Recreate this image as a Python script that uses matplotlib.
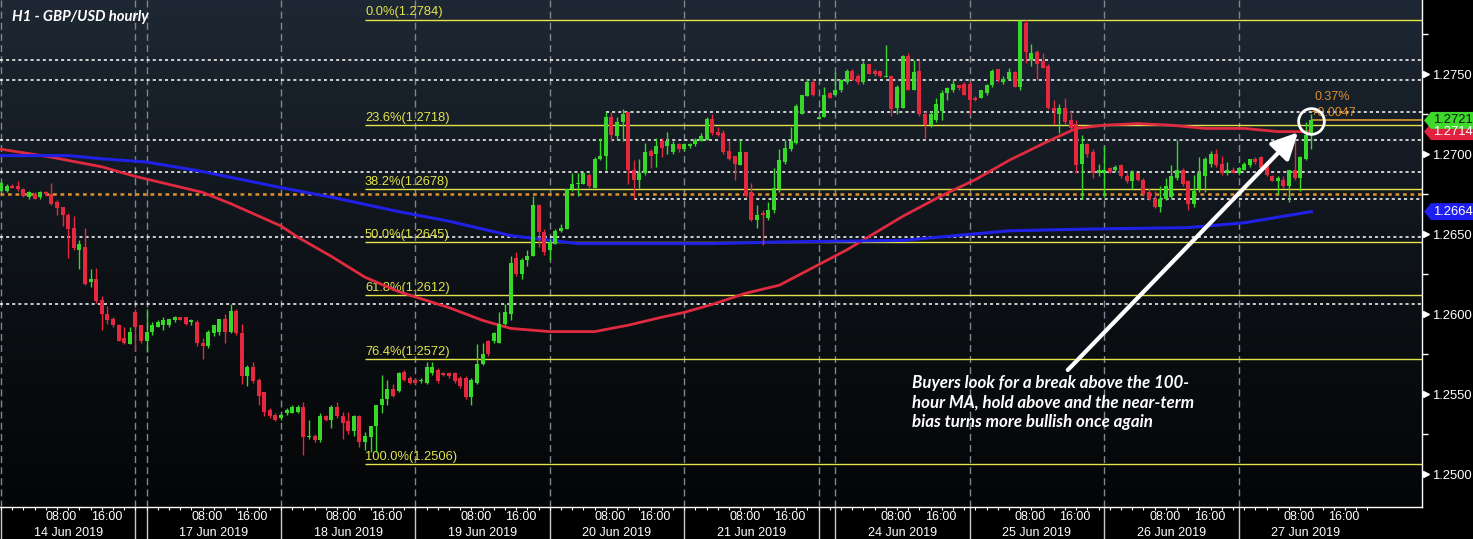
import numpy as np
import matplotlib
matplotlib.use('Agg')
import matplotlib.pyplot as plt
from matplotlib.colors import LinearSegmentedColormap
from matplotlib.patches import Polygon

# hourly GBP/USD candles, one entry per bar (Sunday evening bars included)
opens = [
    # 14 Jun
    1.2677, 1.2677, 1.2680, 1.2680, 1.2678, 1.2673, 1.2675, 1.2673, 1.2676, 1.2675, 1.2670, 1.2667,
    1.2662, 1.2654, 1.2640, 1.2642, 1.2620, 1.2622, 1.2609, 1.2600, 1.2597, 1.2593, 1.2585, 1.2581,
    # sunday
    1.2601, 1.2593,
    # 17 Jun
    1.2583, 1.2589, 1.2592, 1.2593, 1.2593, 1.2596, 1.2598, 1.2598, 1.2595, 1.2595, 1.2582, 1.2580,
    1.2588, 1.2589, 1.2597, 1.2589, 1.2602, 1.2588, 1.2561, 1.2567, 1.2559, 1.2551, 1.2540, 1.2537,
    # 18 Jun
    1.2535, 1.2538, 1.2538, 1.2539, 1.2542, 1.2523, 1.2524, 1.2521, 1.2536, 1.2534, 1.2542, 1.2536,
    1.2533, 1.2527, 1.2536, 1.2520, 1.2523, 1.2530, 1.2543, 1.2547, 1.2553, 1.2552, 1.2564, 1.2560,
    # 19 Jun
    1.2559, 1.2558, 1.2557, 1.2563, 1.2565, 1.2563, 1.2563, 1.2563, 1.2560, 1.2560, 1.2548, 1.2557,
    1.2569, 1.2583, 1.2583, 1.2582, 1.2594, 1.2600, 1.2635, 1.2625, 1.2634, 1.2636, 1.2668, 1.2651,
    # 20 Jun
    1.2640, 1.2644, 1.2652, 1.2653, 1.2678, 1.2681, 1.2681, 1.2687, 1.2679, 1.2697, 1.2699, 1.2723,
    1.2711, 1.2720, 1.2726, 1.2690, 1.2684, 1.2688, 1.2702, 1.2700, 1.2708, 1.2705, 1.2701, 1.2706,
    # 21 Jun
    1.2703, 1.2705, 1.2706, 1.2708, 1.2709, 1.2722, 1.2714, 1.2713, 1.2702, 1.2699, 1.2693, 1.2701,
    1.2676, 1.2659, 1.2663, 1.2660, 1.2665, 1.2678, 1.2695, 1.2703, 1.2707, 1.2725, 1.2736, 1.2745,
    # sunday
    1.2722, 1.2723, 1.2738,
    # 24 Jun
    1.2737, 1.2740, 1.2745, 1.2752, 1.2749, 1.2745, 1.2756, 1.2752, 1.2752, 1.2748, 1.2749, 1.2729,
    1.2729, 1.2761, 1.2740, 1.2752, 1.2725, 1.2718, 1.2721, 1.2727, 1.2738, 1.2740, 1.2743, 1.2744,
    # 25 Jun
    1.2744, 1.2735, 1.2735, 1.2738, 1.2743, 1.2753, 1.2745, 1.2747, 1.2751, 1.2742, 1.2782, 1.2759,
    1.2764, 1.2758, 1.2755, 1.2729, 1.2725, 1.2729, 1.2721, 1.2719, 1.2694, 1.2706, 1.2701, 1.2688,
    # 26 Jun
    1.2688, 1.2691, 1.2690, 1.2693, 1.2686, 1.2683, 1.2688, 1.2684, 1.2676, 1.2672, 1.2667, 1.2672,
    1.2673, 1.2685, 1.2690, 1.2683, 1.2669, 1.2678, 1.2686, 1.2694, 1.2700, 1.2694, 1.2688, 1.2690,
    # 27 Jun
    1.2688, 1.2690, 1.2693, 1.2697, 1.2698, 1.2694, 1.2686, 1.2683, 1.2684, 1.2680, 1.2690, 1.2685,
    1.2697, 1.2713,
]
highs = [
    1.2683, 1.2681, 1.2681, 1.2683, 1.2679, 1.2677, 1.2676, 1.2677, 1.2677, 1.2682, 1.2671, 1.2667,
    1.2663, 1.2661, 1.2646, 1.2654, 1.2628, 1.2629, 1.2611, 1.2605, 1.2598, 1.2594, 1.2592, 1.2592,
    1.2603, 1.2593,
    1.2603, 1.2595, 1.2596, 1.2598, 1.2597, 1.2599, 1.2598, 1.2598, 1.2597, 1.2596, 1.2585, 1.2590,
    1.2593, 1.2597, 1.2600, 1.2606, 1.2603, 1.2594, 1.2568, 1.2570, 1.2560, 1.2551, 1.2541, 1.2538,
    1.2538, 1.2541, 1.2543, 1.2543, 1.2545, 1.2534, 1.2525, 1.2538, 1.2537, 1.2543, 1.2545, 1.2539,
    1.2539, 1.2537, 1.2537, 1.2526, 1.2530, 1.2543, 1.2562, 1.2559, 1.2556, 1.2564, 1.2565, 1.2561,
    1.2560, 1.2560, 1.2570, 1.2570, 1.2566, 1.2564, 1.2564, 1.2564, 1.2561, 1.2561, 1.2560, 1.2581,
    1.2582, 1.2584, 1.2589, 1.2601, 1.2606, 1.2636, 1.2639, 1.2635, 1.2640, 1.2674, 1.2669, 1.2653,
    1.2647, 1.2653, 1.2656, 1.2678, 1.2688, 1.2688, 1.2688, 1.2688, 1.2698, 1.2710, 1.2726, 1.2726,
    1.2723, 1.2728, 1.2726, 1.2696, 1.2697, 1.2707, 1.2703, 1.2710, 1.2710, 1.2714, 1.2708, 1.2707,
    1.2707, 1.2707, 1.2710, 1.2713, 1.2723, 1.2725, 1.2717, 1.2715, 1.2709, 1.2699, 1.2709, 1.2701,
    1.2682, 1.2668, 1.2665, 1.2670, 1.2691, 1.2703, 1.2709, 1.2717, 1.2731, 1.2737, 1.2747, 1.2747,
    1.2723, 1.2742, 1.2739,
    1.2751, 1.2747, 1.2753, 1.2753, 1.2750, 1.2758, 1.2756, 1.2753, 1.2752, 1.2768, 1.2749, 1.2743,
    1.2762, 1.2763, 1.2759, 1.2759, 1.2727, 1.2727, 1.2735, 1.2740, 1.2742, 1.2747, 1.2743, 1.2745,
    1.2745, 1.2736, 1.2740, 1.2744, 1.2753, 1.2753, 1.2749, 1.2754, 1.2752, 1.2784, 1.2784, 1.2769,
    1.2765, 1.2763, 1.2756, 1.2734, 1.2731, 1.2735, 1.2727, 1.2721, 1.2712, 1.2707, 1.2703, 1.2694,
    1.2705, 1.2692, 1.2693, 1.2694, 1.2688, 1.2690, 1.2688, 1.2685, 1.2679, 1.2677, 1.2680, 1.2685,
    1.2693, 1.2709, 1.2691, 1.2684, 1.2687, 1.2698, 1.2698, 1.2702, 1.2703, 1.2699, 1.2695, 1.2692,
    1.2692, 1.2695, 1.2697, 1.2698, 1.2699, 1.2695, 1.2687, 1.2686, 1.2686, 1.2690, 1.2709, 1.2699,
    1.2720, 1.2725,
]
lows = [
    1.2676, 1.2676, 1.2679, 1.2677, 1.2673, 1.2672, 1.2672, 1.2672, 1.2674, 1.2668, 1.2662, 1.2655,
    1.2635, 1.2640, 1.2628, 1.2618, 1.2617, 1.2607, 1.2590, 1.2594, 1.2592, 1.2583, 1.2581, 1.2581,
    1.2577, 1.2582,
    1.2576, 1.2587, 1.2592, 1.2590, 1.2592, 1.2595, 1.2596, 1.2593, 1.2593, 1.2580, 1.2572, 1.2579,
    1.2586, 1.2587, 1.2582, 1.2588, 1.2587, 1.2556, 1.2555, 1.2557, 1.2543, 1.2536, 1.2535, 1.2533,
    1.2534, 1.2537, 1.2538, 1.2538, 1.2512, 1.2522, 1.2520, 1.2520, 1.2533, 1.2529, 1.2535, 1.2522,
    1.2525, 1.2524, 1.2517, 1.2515, 1.2514, 1.2514, 1.2538, 1.2543, 1.2548, 1.2551, 1.2558, 1.2556,
    1.2556, 1.2557, 1.2556, 1.2562, 1.2557, 1.2561, 1.2560, 1.2557, 1.2554, 1.2547, 1.2543, 1.2556,
    1.2568, 1.2574, 1.2582, 1.2582, 1.2593, 1.2596, 1.2624, 1.2622, 1.2630, 1.2636, 1.2642, 1.2637,
    1.2634, 1.2644, 1.2651, 1.2653, 1.2677, 1.2674, 1.2681, 1.2679, 1.2679, 1.2696, 1.2690, 1.2708,
    1.2709, 1.2708, 1.2681, 1.2672, 1.2679, 1.2687, 1.2691, 1.2692, 1.2698, 1.2700, 1.2700, 1.2701,
    1.2702, 1.2704, 1.2705, 1.2708, 1.2709, 1.2712, 1.2711, 1.2700, 1.2696, 1.2684, 1.2693, 1.2673,
    1.2658, 1.2654, 1.2643, 1.2659, 1.2663, 1.2676, 1.2694, 1.2702, 1.2706, 1.2725, 1.2736, 1.2736,
    1.2722, 1.2723, 1.2735,
    1.2736, 1.2739, 1.2744, 1.2746, 1.2744, 1.2744, 1.2750, 1.2749, 1.2748, 1.2748, 1.2724, 1.2725,
    1.2729, 1.2740, 1.2740, 1.2724, 1.2710, 1.2717, 1.2720, 1.2721, 1.2734, 1.2739, 1.2740, 1.2737,
    1.2725, 1.2733, 1.2735, 1.2737, 1.2742, 1.2745, 1.2744, 1.2746, 1.2742, 1.2740, 1.2757, 1.2755,
    1.2746, 1.2754, 1.2728, 1.2719, 1.2713, 1.2719, 1.2715, 1.2688, 1.2672, 1.2698, 1.2685, 1.2686,
    1.2673, 1.2688, 1.2689, 1.2685, 1.2682, 1.2678, 1.2683, 1.2674, 1.2671, 1.2666, 1.2664, 1.2671,
    1.2672, 1.2684, 1.2680, 1.2665, 1.2667, 1.2676, 1.2676, 1.2692, 1.2692, 1.2687, 1.2687, 1.2688,
    1.2687, 1.2690, 1.2692, 1.2694, 1.2690, 1.2686, 1.2683, 1.2675, 1.2679, 1.2670, 1.2684, 1.2677,
    1.2696, 1.2703,
]
closes = [
    1.2682, 1.2680, 1.2679, 1.2678, 1.2674, 1.2676, 1.2672, 1.2676, 1.2675, 1.2669, 1.2666, 1.2662,
    1.2653, 1.2641, 1.2644, 1.2619, 1.2622, 1.2608, 1.2600, 1.2596, 1.2593, 1.2583, 1.2582, 1.2589,
    1.2592, 1.2583,
    1.2589, 1.2593, 1.2595, 1.2596, 1.2597, 1.2598, 1.2596, 1.2594, 1.2596, 1.2582, 1.2580, 1.2589,
    1.2593, 1.2597, 1.2589, 1.2602, 1.2588, 1.2561, 1.2567, 1.2558, 1.2549, 1.2539, 1.2536, 1.2534,
    1.2537, 1.2540, 1.2542, 1.2542, 1.2523, 1.2524, 1.2521, 1.2536, 1.2534, 1.2542, 1.2536, 1.2532,
    1.2527, 1.2536, 1.2520, 1.2524, 1.2530, 1.2543, 1.2547, 1.2553, 1.2549, 1.2563, 1.2559, 1.2557,
    1.2557, 1.2559, 1.2567, 1.2567, 1.2558, 1.2562, 1.2561, 1.2558, 1.2555, 1.2548, 1.2559, 1.2569,
    1.2575, 1.2575, 1.2588, 1.2594, 1.2601, 1.2632, 1.2625, 1.2634, 1.2636, 1.2668, 1.2651, 1.2639,
    1.2645, 1.2652, 1.2654, 1.2678, 1.2681, 1.2682, 1.2688, 1.2680, 1.2697, 1.2699, 1.2723, 1.2712,
    1.2720, 1.2725, 1.2690, 1.2684, 1.2688, 1.2701, 1.2699, 1.2705, 1.2704, 1.2708, 1.2706, 1.2703,
    1.2706, 1.2706, 1.2709, 1.2711, 1.2722, 1.2713, 1.2712, 1.2701, 1.2697, 1.2694, 1.2701, 1.2674,
    1.2659, 1.2662, 1.2662, 1.2665, 1.2679, 1.2696, 1.2704, 1.2708, 1.2730, 1.2737, 1.2745, 1.2737,
    1.2723, 1.2737, 1.2735,
    1.2740, 1.2746, 1.2752, 1.2746, 1.2745, 1.2756, 1.2750, 1.2750, 1.2749, 1.2749, 1.2728, 1.2742,
    1.2761, 1.2740, 1.2751, 1.2725, 1.2718, 1.2725, 1.2731, 1.2738, 1.2741, 1.2744, 1.2741, 1.2737,
    1.2734, 1.2734, 1.2740, 1.2743, 1.2752, 1.2746, 1.2747, 1.2751, 1.2742, 1.2783, 1.2764, 1.2763,
    1.2756, 1.2754, 1.2729, 1.2727, 1.2729, 1.2720, 1.2716, 1.2693, 1.2706, 1.2700, 1.2688, 1.2690,
    1.2690, 1.2689, 1.2692, 1.2686, 1.2683, 1.2688, 1.2684, 1.2675, 1.2672, 1.2667, 1.2672, 1.2680,
    1.2686, 1.2690, 1.2681, 1.2669, 1.2677, 1.2688, 1.2697, 1.2700, 1.2693, 1.2688, 1.2690, 1.2688,
    1.2691, 1.2694, 1.2697, 1.2695, 1.2691, 1.2687, 1.2683, 1.2685, 1.2680, 1.2690, 1.2685, 1.2698,
    1.2712, 1.2721,
]

# bar where each session starts
day_labels = ['14 Jun 2019', '17 Jun 2019', '18 Jun 2019', '19 Jun 2019', '20 Jun 2019',
              '21 Jun 2019', '24 Jun 2019', '25 Jun 2019', '26 Jun 2019', '27 Jun 2019']
day_start = [0, 26, 50, 74, 98, 122, 149, 173, 197, 221]
sunday_start = [24, 146]

# moving averages (bar, price)
ma100_bar = [0, 9, 18, 24, 36, 41, 50, 53, 59, 65, 71, 80, 86, 91, 98, 106, 112, 118, 122, 127,
             133, 139, 145, 151, 161, 168, 174, 180, 187, 192, 197, 203, 209, 215, 222, 228, 234]
ma100 = [1.2703, 1.2698, 1.2692, 1.2686, 1.2676, 1.2669, 1.2655, 1.2648, 1.2636, 1.2623, 1.2614,
         1.2604, 1.2596, 1.2591, 1.2589, 1.2589, 1.2593, 1.2598, 1.2601, 1.2606, 1.2613, 1.2618,
         1.2629, 1.2640, 1.2661, 1.2674, 1.2684, 1.2696, 1.2708, 1.2716, 1.2718, 1.2719, 1.2718,
         1.2716, 1.2716, 1.2714, 1.2714]
ma200_bar = [0, 12, 18, 26, 36, 50, 59, 71, 80, 91, 103, 115, 127, 139, 161, 180, 193, 212, 222, 234]
ma200 = [1.2699, 1.2699, 1.2697, 1.2695, 1.2689, 1.2679, 1.2673, 1.2664, 1.2658, 1.2649, 1.2644,
         1.2644, 1.2644, 1.2645, 1.2646, 1.2652, 1.2653, 1.2654, 1.2657, 1.2664]

fib_pct = ['0.0%', '23.6%', '38.2%', '50.0%', '61.8%', '76.4%', '100.0%']
fib_val = [1.2784, 1.2718, 1.2678, 1.2645, 1.2612, 1.2572, 1.2506]
fib_from = 65

# other horizontal levels (dotted)
levels_full = [1.2759, 1.2746, 1.2709, 1.2689, 1.2648, 1.2606]
levels_part = [(108, 1.2726), (113, 1.2672)]
level_orange = 1.26747

last_price = 1.2721
ma100_last = 1.2714
ma200_last = 1.2664

GREEN = '#37d82a'
RED = '#e6283e'
BLUE = '#2020e6'
YELLOW = '#e4e44a'
ORANGE = '#db8d2c'

W, H = 1473, 539
fig = plt.figure(figsize=(W / 100, H / 100), dpi=100, facecolor='black')
ax = fig.add_axes([0, 32 / H, 1422 / W, 507 / H])
x0, x1 = -1 / 5.6, 1421 / 5.6
y0, y1 = 1.247938, 1.279625

# background gradient
grad = np.linspace(0, 1, 256).reshape(-1, 1)
cmap = LinearSegmentedColormap.from_list('bg', ['#040506', '#0e1318', '#1e2834'])
ax.imshow(grad, extent=[x0, x1, y0, y1], origin='lower', aspect='auto', cmap=cmap, zorder=0)
ax.set_xlim(x0, x1)
ax.set_ylim(y0, y1)

# session separators
seps = sorted(day_start + sunday_start)
for s in seps:
    ax.axvline(s, color='#7f868e', lw=1, ls=(0, (5, 3)), zorder=1)

# dotted levels
for v in levels_full:
    ax.axhline(v, color='white', lw=1.1, ls=(0, (2, 2)), zorder=2)
for b, v in levels_part:
    ax.hlines(v, b, x1, color='white', lw=1.1, ls=(0, (2, 2)), zorder=2)
ax.axhline(level_orange, color='#e0902a', lw=1.8, ls=(0, (1.5, 1.5)), zorder=2)

# fibonacci retracement
for p, v in zip(fib_pct, fib_val):
    ax.hlines(v, fib_from, x1, color=YELLOW, lw=1, zorder=2)
    ax.text(fib_from, v + 0.00007, f'{p}({v:.4f})', color=YELLOW, fontsize=9.3,
            family='Liberation Sans', va='bottom', ha='left', zorder=3)

# moving averages
ax.plot(ma100_bar, ma100, color='#e02a40', lw=2, zorder=3)
ax.plot(ma200_bar, ma200, color=BLUE, lw=2.2, zorder=3)

# candles
o, h, l, c = map(np.array, (opens, highs, lows, closes))
idx = np.arange(len(o))
cols = np.where(c >= o, GREEN, RED)
ax.vlines(idx, l, h, colors=cols, lw=1, zorder=4)
ax.bar(idx, np.maximum(np.abs(c - o), 0.00004), bottom=np.minimum(o, c), width=0.72,
       color=cols, linewidth=0, zorder=5)

# current price line
ax.hlines(last_price, idx[-1], x1, color='#d99a2e', lw=1.2, zorder=3)

# circle, arrow, notes
ax.plot([233.9], [1.27206], marker='o', ms=18.5, mfc='none', mec='white', mew=2, zorder=7)
ax.annotate('', xy=(231.6, 1.27135), xytext=(190.5, 1.2565),
            arrowprops=dict(arrowstyle='-|>,head_length=0.8,head_width=0.4', color='white',
                            lw=3, mutation_scale=20, shrinkA=0, shrinkB=0), zorder=7)
ax.text(234.6, 1.27356, '0.37%', color=ORANGE, fontsize=9, family='Liberation Sans',
        va='center', ha='left', zorder=6)
ax.text(233.9, 1.27256, '+0.0047', color=ORANGE, fontsize=9, family='Liberation Sans',
        va='center', ha='left', zorder=6)
ax.text(162.6, 1.25618, 'Buyers look for a break above the 100-\nhour MA, hold above and the near-term\n'
        'bias turns more bullish once again', color='white', fontsize=12.2,
        family=['Lato', 'DejaVu Sans'], weight='bold', style='italic', va='top', ha='left',
        linespacing=1.25, zorder=8)
ax.text(12 / 1422, 1 - 17 / 507, 'H1 - GBP/USD hourly', transform=ax.transAxes, color='white',
        fontsize=10.7, family=['Lato', 'DejaVu Sans'], weight='bold', style='italic', va='center')

# right axis
ticks = np.arange(1.2500, 1.27501, 0.0050)
ax.yaxis.tick_right()
ax.set_yticks(ticks)
ax.set_yticklabels([f'{t:.4f}' for t in ticks])
ax.set_yticks(ticks + 0.0025, minor=True)
ax.tick_params(axis='y', which='major', length=0, pad=7.5, labelcolor='white', labelsize=9.4)
ax.tick_params(axis='y', which='minor', length=4, width=1, color='white', direction='out')
ax.tick_params(axis='x', which='both', length=0, labelbottom=False)
for lab in ax.get_yticklabels():
    lab.set_fontfamily('Liberation Sans')
ax.plot([1426 / 1422] * len(ticks), ticks, ls='none', marker='>', ms=5, color='white',
        transform=ax.get_yaxis_transform(), clip_on=False)

for s in ['left', 'top']:
    ax.spines[s].set_visible(False)
for s in ['right', 'bottom']:
    ax.spines[s].set_color('white')
    ax.spines[s].set_linewidth(1)


def price_tag(val, face, txt):
    hh = 0.00053
    pts = [(1424 / 1422, val), (1431 / 1422, val + hh), (1473 / 1422, val + hh),
           (1473 / 1422, val - hh), (1431 / 1422, val - hh)]
    ax.add_patch(Polygon(pts, closed=True, fc=face, ec='none', transform=ax.get_yaxis_transform(),
                         clip_on=False, zorder=9))
    ax.text(1433 / 1422, val, f'{val:.4f}', color=txt, fontsize=9.4, family='Liberation Sans',
            va='center', ha='left', transform=ax.get_yaxis_transform(), clip_on=False, zorder=10)


price_tag(ma100_last, '#e3203f', 'white')
price_tag(last_price, '#3fd82c', '#0b160b')
price_tag(ma200_last, '#1e1ef0', 'white')

# time axis
xt = ax.get_xaxis_transform()
for s in seps:
    ax.vlines(s, -32 / 507, 0, transform=xt, color='#c8c8c8', lw=1, clip_on=False)
for b in range(0, 246, 2):
    ax.vlines(b, -3 / 507, 0, transform=xt, color='white', lw=0.8, clip_on=False)
for d, lab in zip(day_start, day_labels):
    ax.text(d + 8, -10.5 / 507, '08:00', transform=xt, color='white', fontsize=9,
            family='Liberation Sans', ha='left', va='center')
    ax.text(d + 16, -10.5 / 507, '16:00', transform=xt, color='white', fontsize=9,
            family='Liberation Sans', ha='left', va='center')
    ax.text(d + 12, -25.5 / 507, lab, transform=xt, color='white', fontsize=9,
            family='Liberation Sans', ha='center', va='center')

fig.savefig('out.png', dpi=100, facecolor='black')
